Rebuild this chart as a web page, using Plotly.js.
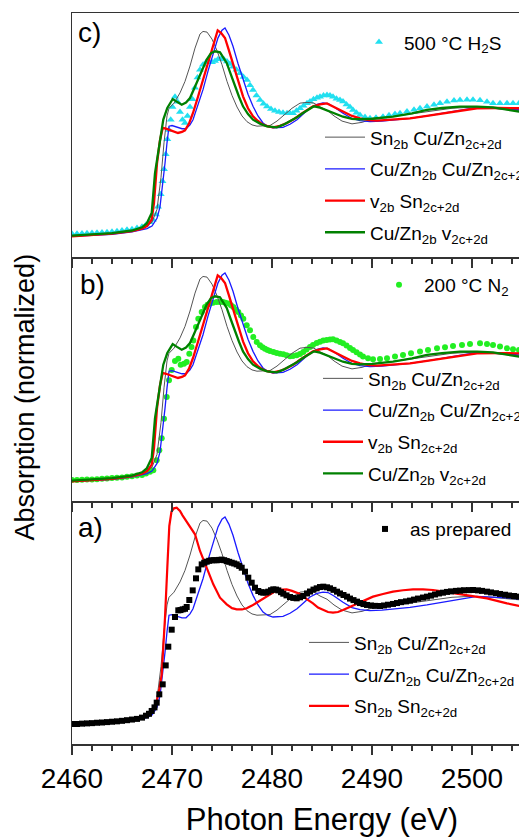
<!DOCTYPE html>
<html>
<head>
<meta charset="utf-8">
<script src="https://cdn.plot.ly/plotly-3.0.1.min.js"></script>
<style>
html,body{margin:0;padding:0;overflow:hidden;background:#fff;}
#chart{width:580px;height:837px;}
</style>
</head>
<body>
<div id="chart"></div>
<script>
// ---------- Theory curves (shared by panels b and c; gray & blue also in panel a) ----------
const E_SN2B_CUZN = [2460,2462,2464,2466,2467,2467.5,2468,2468.5,2468.9,2469.2,2469.5,2469.7,2470.2,2470.8,2471.3,2471.8,2472.3,2472.8,2473.1,2473.5,2474.0,2474.5,2475.0,2475.5,2476.0,2476.5,2477.0,2477.5,2478.0,2478.5,2479.0,2479.8,2480.5,2481.2,2482.0,2482.8,2483.5,2484.2,2484.8,2485.5,2486.2,2487.0,2488.0,2489.0,2490.0,2492.0,2494.0,2496.0,2498.0,2500.0,2502.0,2504.0,2506.0,2508,2510];
const Y_SN2B_CUZN = [-0.01,0.0,0.01,0.03,0.05,0.07,0.1,0.2,0.45,0.72,0.93,0.99,1.03,1.11,1.2,1.32,1.46,1.57,1.59,1.585,1.53,1.44,1.33,1.2,1.09,1.0,0.93,0.885,0.86,0.85,0.85,0.855,0.89,0.94,0.99,1.03,1.036,1.03,1.0,0.975,0.93,0.89,0.868,0.88,0.905,0.925,0.945,0.97,0.99,0.998,0.99,0.975,0.96,0.95,0.94];

const E_CUZN_CUZN = [2460,2462,2464,2466,2467,2467.5,2468,2468.5,2468.8,2469.1,2469.3,2469.5,2469.7,2470.0,2470.5,2471.0,2471.4,2471.8,2472.1,2472.6,2473.1,2473.6,2474.1,2474.6,2475.0,2475.3,2475.7,2476.1,2476.6,2477.1,2477.6,2478.1,2478.6,2479.1,2479.6,2480.1,2480.6,2481.1,2481.8,2482.5,2483.2,2483.8,2484.5,2485.1,2485.6,2486.2,2487.1,2488.0,2488.8,2489.8,2491.0,2492.5,2493.8,2495.5,2497.1,2499.0,2500.5,2502.5,2504.7,2507,2510];
const Y_CUZN_CUZN = [-0.01,0.0,0.005,0.025,0.04,0.05,0.07,0.13,0.22,0.4,0.56,0.72,0.85,0.855,0.845,0.83,0.83,0.86,0.9,1.01,1.135,1.28,1.42,1.54,1.6,1.617,1.56,1.474,1.34,1.214,1.1,1.005,0.93,0.875,0.848,0.836,0.836,0.841,0.865,0.9,0.95,0.992,1.02,1.031,1.027,1.0,0.951,0.91,0.893,0.886,0.89,0.9,0.911,0.93,0.951,0.978,0.997,0.99,0.977,0.965,0.95];

const E_V_SN = [2460,2462,2464,2466,2467,2467.5,2467.97,2468.2,2468.5,2468.8,2469.07,2469.4,2469.8,2470.2,2470.6,2471.0,2471.3,2471.7,2472.1,2472.6,2473.1,2473.5,2473.8,2474.2,2474.57,2474.9,2475.3,2475.7,2476.1,2476.6,2477.1,2477.6,2478.1,2478.6,2479.1,2479.6,2480.1,2480.8,2481.5,2482.2,2482.8,2483.5,2484.1,2484.8,2485.5,2486.2,2487.1,2488.0,2488.8,2489.7,2490.5,2492.0,2493.8,2495.5,2497.1,2499.0,2500.5,2502.5,2504.7,2507,2510];
const Y_V_SN = [-0.01,0.0,0.01,0.03,0.05,0.07,0.12,0.25,0.56,0.74,0.836,0.83,0.82,0.805,0.797,0.805,0.818,0.87,0.953,1.08,1.214,1.33,1.396,1.5,1.599,1.58,1.539,1.44,1.344,1.21,1.083,0.99,0.927,0.89,0.862,0.848,0.841,0.852,0.875,0.905,0.94,0.975,1.005,1.02,1.028,1.0,0.964,0.93,0.911,0.897,0.893,0.9,0.911,0.93,0.951,0.972,0.99,0.992,0.99,0.98,0.97];

const E_CUZN_V = [2460,2462,2464,2466,2467,2467.47,2467.97,2468.3,2468.8,2469.13,2469.53,2470.07,2470.5,2470.97,2471.4,2471.8,2472.2,2472.63,2473.0,2473.47,2473.9,2474.3,2474.8,2475.1,2475.47,2475.9,2476.3,2476.7,2477.1,2477.6,2478.1,2478.8,2479.5,2480.47,2481.1,2481.8,2482.5,2483.1,2483.7,2484.2,2484.8,2485.5,2486.3,2487.1,2488.0,2488.8,2490.0,2492.1,2494.0,2495.5,2497.0,2498.8,2500.5,2502.1,2504.7,2507,2510];
const Y_CUZN_V = [-0.005,0.005,0.015,0.035,0.06,0.09,0.172,0.484,0.745,0.901,0.992,1.062,1.04,1.018,1.035,1.07,1.14,1.214,1.29,1.37,1.42,1.435,1.427,1.39,1.344,1.25,1.161,1.08,1.005,0.945,0.901,0.87,0.849,0.841,0.86,0.888,0.92,0.953,0.985,1.005,0.995,0.975,0.95,0.924,0.907,0.904,0.908,0.924,0.95,0.977,0.992,1.003,1.003,0.997,0.964,0.95,0.94];

// Panel a only
const E_SN_SN = [2460,2462,2464,2466,2467,2467.8,2468.2,2468.47,2468.75,2468.97,2469.15,2469.3,2469.53,2469.73,2469.95,2470.2,2470.47,2470.8,2471.05,2471.3,2471.8,2472.3,2472.8,2473.47,2474.13,2474.8,2475.47,2476.0,2476.47,2477.0,2477.47,2478.0,2478.47,2479.0,2479.47,2480.0,2480.47,2481.0,2481.47,2482.0,2482.47,2482.8,2483.47,2484.1,2484.6,2485.1,2485.6,2486.1,2486.6,2487.1,2487.8,2488.5,2489.3,2490.1,2491.1,2492.1,2493.1,2494.1,2495.1,2496.1,2497.0,2497.8,2499.5,2501.5,2503.5,2504.7,2507,2510];
const Y_SN_SN = [-0.01,0.0,0.01,0.03,0.05,0.076,0.12,0.18,0.28,0.388,0.6,0.831,1.221,1.547,1.66,1.685,1.69,1.664,1.63,1.599,1.547,1.482,1.352,1.221,1.091,0.987,0.935,0.905,0.896,0.895,0.904,0.925,0.948,0.975,1.0,1.025,1.044,1.05,1.052,1.04,1.026,1.015,0.975,0.943,0.91,0.891,0.875,0.87,0.875,0.891,0.915,0.943,0.97,0.995,1.016,1.034,1.045,1.052,1.052,1.047,1.036,1.026,1.008,0.982,0.943,0.922,0.9,0.88];

// ---------- Measured spectra ----------
const E_H2S500 = [2460,2460.5,2461,2461.5,2462,2462.5,2463,2463.5,2464,2464.5,2465,2465.5,2466,2466.5,2467,2467.4,2467.8,2468.1,2468.4,2468.6,2468.87,2469.05,2469.2,2469.37,2469.53,2469.7,2469.87,2470.05,2470.3,2470.55,2470.8,2471.05,2471.3,2471.55,2471.8,2472.05,2472.3,2472.55,2472.8,2473.1,2473.4,2473.7,2474.0,2474.3,2474.6,2474.9,2475.2,2475.5,2475.8,2476.1,2476.45,2476.8,2477.15,2477.5,2477.8,2478.1,2478.45,2478.8,2479.15,2479.5,2479.9,2480.3,2480.7,2481.1,2481.5,2481.8,2482.1,2482.45,2482.8,2483.15,2483.5,2483.8,2484.15,2484.5,2484.8,2485.15,2485.5,2485.8,2486.1,2486.45,2486.8,2487.1,2487.45,2487.8,2488.1,2488.45,2488.8,2489.3,2489.8,2490.4,2491.1,2491.7,2492.3,2492.8,2493.5,2494.2,2494.8,2495.5,2496.2,2496.8,2497.5,2498.2,2498.8,2499.5,2500.1,2500.8,2501.5,2502.1,2502.8,2503.5,2504.1,2504.7,2505.4,2506];
const Y_H2S500 = [0.01,0.01,0.012,0.013,0.015,0.017,0.02,0.022,0.025,0.03,0.035,0.04,0.045,0.055,0.065,0.08,0.1,0.12,0.16,0.22,0.318,0.42,0.513,0.63,0.747,0.82,0.9,1.0,1.08,1.04,0.96,0.9,0.875,0.93,1.0,1.06,1.15,1.23,1.29,1.33,1.35,1.355,1.35,1.36,1.372,1.375,1.37,1.355,1.335,1.315,1.29,1.263,1.235,1.21,1.17,1.133,1.09,1.055,1.025,1.003,0.985,0.97,0.96,0.955,0.951,0.95,0.951,0.97,0.99,1.01,1.03,1.042,1.06,1.072,1.08,1.09,1.094,1.09,1.08,1.065,1.055,1.042,1.02,1.0,0.977,0.955,0.938,0.922,0.911,0.915,0.924,0.935,0.945,0.951,0.965,0.978,0.99,1.003,1.017,1.029,1.04,1.05,1.055,1.057,1.056,1.052,1.04,1.029,1.03,1.03,1.029,1.029,1.025,1.02];

const E_N2200 = [2460,2460.5,2461,2461.5,2462,2462.5,2463,2463.5,2464,2464.5,2465,2465.5,2466,2466.5,2467,2467.4,2467.8,2468.13,2468.47,2468.73,2468.97,2469.2,2469.47,2469.7,2469.97,2470.3,2470.63,2470.87,2471.2,2471.47,2471.73,2471.95,2472.13,2472.4,2472.63,2472.97,2473.3,2473.55,2473.8,2474.1,2474.47,2474.8,2475.1,2475.35,2475.63,2475.9,2476.13,2476.4,2476.63,2476.9,2477.13,2477.47,2477.8,2478.13,2478.47,2478.8,2479.05,2479.3,2479.55,2479.8,2480.15,2480.47,2480.8,2481.13,2481.45,2481.8,2482.1,2482.47,2482.8,2483.13,2483.45,2483.8,2484.1,2484.47,2484.8,2485.13,2485.47,2485.8,2486.1,2486.45,2486.8,2487.1,2487.45,2487.8,2488.1,2488.45,2488.8,2489.1,2489.6,2490.1,2490.8,2491.5,2492.3,2493.1,2493.9,2494.8,2495.6,2496.5,2497.3,2498.1,2499.0,2499.8,2500.8,2501.5,2502.1,2502.8,2503.5,2504.1,2504.7,2505.4,2506];
const Y_N2200 = [0.0,0.0,0.002,0.004,0.005,0.007,0.01,0.012,0.015,0.018,0.02,0.025,0.03,0.035,0.04,0.05,0.065,0.076,0.154,0.232,0.326,0.479,0.648,0.78,0.86,0.93,0.948,0.9,0.909,0.922,0.987,1.04,1.09,1.195,1.26,1.312,1.352,1.37,1.378,1.385,1.39,1.39,1.39,1.385,1.378,1.365,1.352,1.33,1.312,1.285,1.26,1.208,1.169,1.117,1.078,1.052,1.038,1.026,1.016,1.008,1.0,0.992,0.987,0.982,0.975,0.966,0.968,0.974,0.985,1.0,1.02,1.039,1.055,1.07,1.08,1.09,1.094,1.098,1.099,1.09,1.078,1.068,1.05,1.032,1.016,0.998,0.98,0.964,0.952,0.943,0.945,0.951,0.964,0.977,0.99,1.003,1.016,1.029,1.038,1.047,1.055,1.063,1.068,1.062,1.055,1.042,1.029,1.022,1.016,1.01,1.005];

const E_ASPREP = [2460,2460.5,2461,2461.5,2462,2462.5,2463,2463.5,2464,2464.5,2465,2465.5,2466,2466.5,2467,2467.4,2467.7,2467.97,2468.25,2468.47,2468.73,2469.07,2469.37,2469.63,2469.97,2470.3,2470.63,2470.85,2471.07,2471.3,2471.47,2471.73,2472.07,2472.4,2472.63,2472.97,2473.22,2473.47,2473.72,2473.97,2474.22,2474.47,2474.72,2474.97,2475.22,2475.47,2475.72,2475.97,2476.22,2476.47,2476.72,2476.97,2477.3,2477.63,2477.97,2478.3,2478.63,2478.9,2479.13,2479.4,2479.63,2479.9,2480.13,2480.4,2480.63,2480.9,2481.13,2481.45,2481.8,2482.13,2482.47,2482.8,2483.13,2483.5,2483.8,2484.15,2484.47,2484.8,2485.13,2485.5,2485.8,2486.15,2486.5,2486.8,2487.15,2487.5,2487.8,2488.15,2488.5,2488.8,2489.15,2489.5,2489.9,2490.3,2490.8,2491.2,2491.6,2492.1,2492.5,2492.9,2493.4,2493.8,2494.2,2494.6,2495.1,2495.5,2495.9,2496.3,2496.7,2497.1,2497.5,2497.9,2498.4,2498.8,2499.2,2499.7,2500.1,2500.6,2501.0,2501.5,2501.9,2502.4,2502.8,2503.3,2503.7,2504.2,2504.7,2505.2,2505.7];
const Y_ASPREP = [0.0,0.0,0.003,0.005,0.007,0.01,0.012,0.015,0.018,0.021,0.025,0.03,0.035,0.04,0.05,0.065,0.08,0.102,0.13,0.167,0.232,0.31,0.458,0.604,0.737,0.836,0.888,0.89,0.896,0.9,0.914,0.969,1.044,1.138,1.208,1.247,1.26,1.268,1.275,1.279,1.28,1.279,1.282,1.284,1.28,1.273,1.267,1.26,1.254,1.247,1.235,1.221,1.19,1.143,1.104,1.065,1.039,1.03,1.026,1.028,1.034,1.045,1.052,1.05,1.044,1.03,1.018,1.005,0.992,0.985,0.982,0.99,1.0,1.02,1.035,1.05,1.06,1.07,1.073,1.068,1.06,1.048,1.034,1.02,1.008,0.995,0.98,0.968,0.956,0.945,0.937,0.93,0.926,0.923,0.922,0.926,0.932,0.938,0.945,0.952,0.958,0.964,0.972,0.98,0.988,0.995,1.003,1.012,1.02,1.026,1.032,1.036,1.04,1.042,1.045,1.046,1.047,1.044,1.04,1.034,1.028,1.022,1.016,1.01,1.004,1.0,0.995,0.99,0.986];

// ---------- Labels ----------
const LBL_SN2B_CUZN = 'Sn<sub>2b</sub> Cu/Zn<sub>2c+2d</sub>';
const LBL_CUZN_CUZN = 'Cu/Zn<sub>2b</sub> Cu/Zn<sub>2c+2d</sub>';
const LBL_V_SN = 'v<sub>2b</sub> Sn<sub>2c+2d</sub>';
const LBL_CUZN_V = 'Cu/Zn<sub>2b</sub> v<sub>2c+2d</sub>';
const LBL_SN_SN = 'Sn<sub>2b</sub> Sn<sub>2c+2d</sub>';
const LBL_H2S = '500 °C H<sub>2</sub>S';
const LBL_N2 = '200 °C N<sub>2</sub>';
const LBL_ASPREP = 'as prepared';
const PANEL_LABELS = ['a)', 'b)', 'c)'];
const X_TICKS = [2460, 2470, 2480, 2490, 2500];

const FONT = 'Arial, "Liberation Sans", sans-serif';
const C_GRAY = '#555555', C_BLUE = '#1a1aff', C_RED = '#ff0000', C_GREEN = '#008000';

function line(x, y, name, color, width, xa, ya, lg, grp) {
  return {x, y, name, type: 'scatter', mode: 'lines', line: {color, width},
          xaxis: xa, yaxis: ya, legend: lg, legendgroup: grp, hoverinfo: 'skip'};
}
function pts(x, y, name, color, symbol, size, xa, ya, lg) {
  return {x, y, name, type: 'scatter', mode: 'markers',
          marker: {color, symbol, size, line: {width: 0}},
          xaxis: xa, yaxis: ya, legend: lg, hoverinfo: 'skip'};
}

const traces = [
  // panel c (top): x3/y3
  pts(E_H2S500, Y_H2S500, LBL_H2S, '#22e0f0', 'triangle-up', 7, 'x3', 'y3', 'legend5'),
  line(E_SN2B_CUZN, Y_SN2B_CUZN, LBL_SN2B_CUZN, C_GRAY, 1, 'x3', 'y3', 'legend6', 'c1'),
  line(E_CUZN_CUZN, Y_CUZN_CUZN, LBL_CUZN_CUZN, C_BLUE, 1.3, 'x3', 'y3', 'legend6', 'c2'),
  line(E_V_SN, Y_V_SN, LBL_V_SN, C_RED, 2.3, 'x3', 'y3', 'legend6', 'c3'),
  line(E_CUZN_V, Y_CUZN_V, LBL_CUZN_V, C_GREEN, 2.3, 'x3', 'y3', 'legend6', 'c4'),
  // panel b (middle): x2/y2
  pts(E_N2200, Y_N2200, LBL_N2, '#22ee22', 'circle', 6, 'x2', 'y2', 'legend3'),
  line(E_SN2B_CUZN, Y_SN2B_CUZN, LBL_SN2B_CUZN, C_GRAY, 1, 'x2', 'y2', 'legend4', 'b1'),
  line(E_CUZN_CUZN, Y_CUZN_CUZN, LBL_CUZN_CUZN, C_BLUE, 1.3, 'x2', 'y2', 'legend4', 'b2'),
  line(E_V_SN, Y_V_SN, LBL_V_SN, C_RED, 2.3, 'x2', 'y2', 'legend4', 'b3'),
  line(E_CUZN_V, Y_CUZN_V, LBL_CUZN_V, C_GREEN, 2.3, 'x2', 'y2', 'legend4', 'b4'),
  // panel a (bottom): x/y
  line(E_SN2B_CUZN, Y_SN2B_CUZN, LBL_SN2B_CUZN, C_GRAY, 1, 'x', 'y', 'legend2', 'a1'),
  line(E_CUZN_CUZN, Y_CUZN_CUZN, LBL_CUZN_CUZN, C_BLUE, 1.3, 'x', 'y', 'legend2', 'a2'),
  line(E_SN_SN, Y_SN_SN, LBL_SN_SN, C_RED, 2.2, 'x', 'y', 'legend2', 'a3'),
  pts(E_ASPREP, Y_ASPREP, LBL_ASPREP, '#000000', 'square', 6, 'x', 'y', 'legend'),
];

const AX_COLOR = '#333333';
function xax(showLabels, anchor, mirror) {
  return {
    range: [2460, 2510], tickvals: X_TICKS, ticks: 'outside', ticklen: 9, tickwidth: 1.5,
    tickcolor: AX_COLOR, showline: true, linecolor: AX_COLOR, linewidth: 1.5, mirror: mirror,
    showgrid: false, zeroline: false, showticklabels: showLabels, anchor: anchor,
    tickfont: {family: FONT, size: 28, color: '#000'},
    minor: {dtick: 2, tick0: 2460, ticks: 'outside', ticklen: 5, tickwidth: 1.5, tickcolor: AX_COLOR, showgrid: false}
  };
}
function yax(domain, range, anchor) {
  return {domain, range, anchor, showline: true, linecolor: AX_COLOR, linewidth: 1.5, mirror: true,
          ticks: '', showticklabels: false, showgrid: false, zeroline: false};
}
function lg(x, y, gap) {
  return {x, y, xanchor: 'left', yanchor: 'middle', bgcolor: 'rgba(0,0,0,0)',
          borderwidth: 0, font: {family: FONT, size: 19, color: '#000'}, itemwidth: 40,
          tracegroupgap: gap === undefined ? 0 : gap};
}

const xa = xax(true, 'y', false);
xa.title = {text: 'Photon Energy (eV)', font: {family: FONT, size: 31, color: '#000'}, standoff: 17};
const xa2 = xax(false, 'y2', false); xa2.matches = 'x';
const xa3 = xax(false, 'y3', true); xa3.matches = 'x';

const annotations = [
  {text: PANEL_LABELS[2], xref: 'paper', yref: 'paper', x: 0.008, y: 0.973, xanchor: 'left', yanchor: 'middle', showarrow: false, font: {family: FONT, size: 28, color: '#000'}},
  {text: PANEL_LABELS[1], xref: 'paper', yref: 'paper', x: 0.012, y: 0.628, xanchor: 'left', yanchor: 'middle', showarrow: false, font: {family: FONT, size: 28, color: '#000'}},
  {text: PANEL_LABELS[0], xref: 'paper', yref: 'paper', x: 0.008, y: 0.2955, xanchor: 'left', yanchor: 'middle', showarrow: false, font: {family: FONT, size: 28, color: '#000'}},
  {text: 'Absorption (normalized)', xref: 'paper', yref: 'paper', x: -0.094, y: 0.474, xanchor: 'center', yanchor: 'middle', textangle: -90, showarrow: false, font: {family: FONT, size: 27, color: '#000'}}
];

const layout = {
  width: 580, height: 837,
  margin: {l: 72, r: 8, t: 13, b: 93},
  paper_bgcolor: '#fff', plot_bgcolor: '#fff',
  showlegend: true,
  xaxis: xa, xaxis2: xa2, xaxis3: xa3,
  yaxis: yax([0, 0.3324], [-0.156, 1.742], 'x'),
  yaxis2: yax([0.3324, 0.6662], [-0.164, 1.742], 'x2'),
  yaxis3: yax([0.6662, 1], [-0.172, 1.734], 'x3'),
  legend: lg(0.576, 0.294),
  legend2: lg(0.464, 0.095, 4),
  legend3: lg(0.604, 0.628),
  legend4: lg(0.492, 0.435, 4),
  legend5: lg(0.564, 0.960),
  legend6: lg(0.496, 0.765, 4),
  annotations
};

Plotly.newPlot('chart', traces, layout, {displayModeBar: false, staticPlot: true});
</script>
</body>
</html>
